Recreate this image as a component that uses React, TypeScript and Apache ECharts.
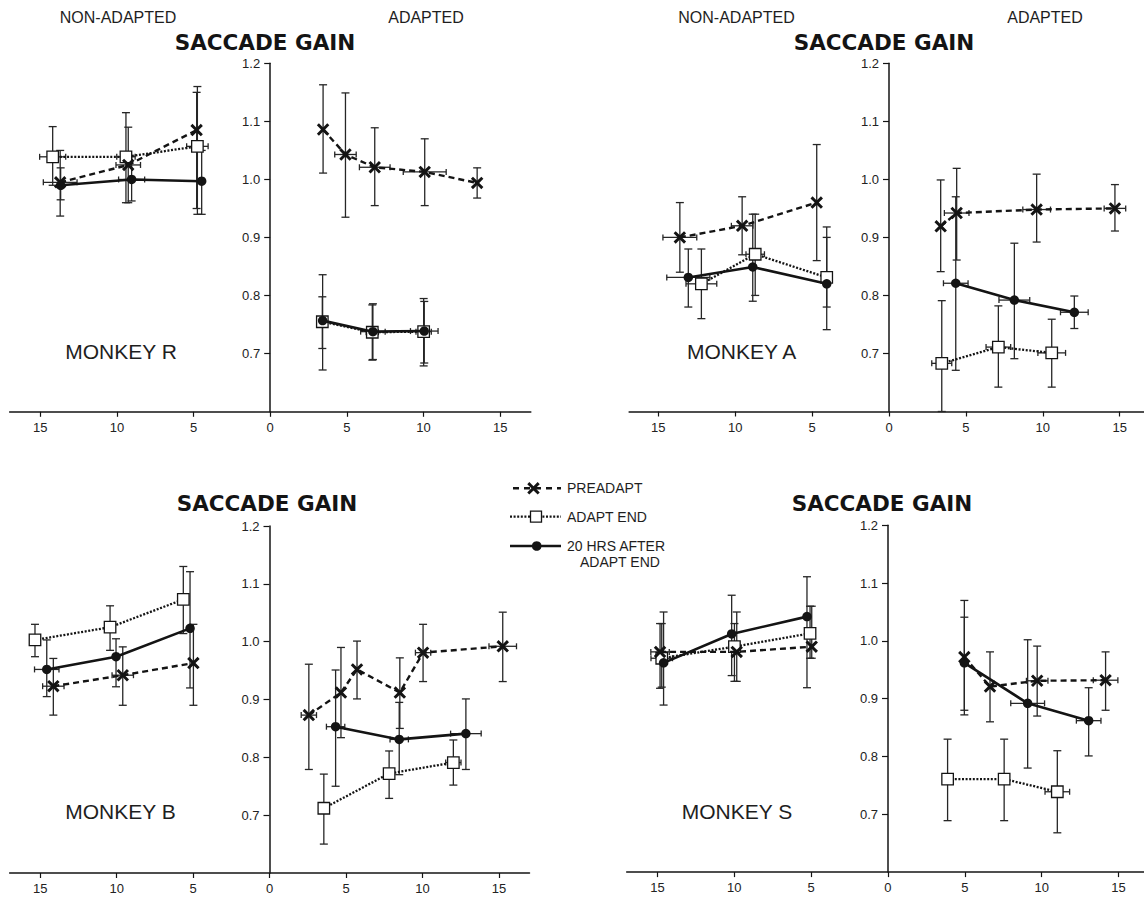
import React, { useEffect, useRef } from "react";
import * as echarts from "echarts";

// Each point: [x (deg, non-adapted side negative), gain, lower, upper, x half-error]
// ---- MONKEY R ----
const rPreNon = [[-13.7, 0.995, 0.937, 1.05, 1.1], [-9.26, 1.025, 0.96, 1.09, 0.8], [-4.8, 1.085, 0.95, 1.15, 0]];
const rEndNon = [[-14.19, 1.039, 0.99, 1.091, 0.85], [-9.41, 1.039, 0.96, 1.115, 0.6], [-4.75, 1.057, 0.94, 1.16, 0.7]];
const rHrsNon = [[-13.67, 0.99, 0.965, 1.02, 0], [-9.04, 1.0, 0.963, 1.04, 0.85], [-4.47, 0.997, 0.94, 1.05, 0]];
const rPreAd = [[3.45, 1.086, 1.011, 1.163, 0], [4.91, 1.043, 0.935, 1.149, 0.7], [6.82, 1.021, 0.955, 1.089, 1.0], [10.08, 1.013, 0.955, 1.07, 1.4], [13.5, 0.994, 0.968, 1.02, 0]];
const rEndAd = [[3.4, 0.755, 0.709, 0.798, 0], [6.66, 0.737, 0.689, 0.784, 0.4], [10.01, 0.738, 0.679, 0.795, 0.5]];
const rHrsAd = [[3.42, 0.757, 0.672, 0.836, 0], [6.7, 0.738, 0.69, 0.786, 0.8], [10.05, 0.739, 0.684, 0.79, 0.9]];
// ---- MONKEY A ----
const aPreNon = [[-13.6, 0.9, 0.84, 0.96, 1.1], [-9.55, 0.92, 0.87, 0.97, 0.7], [-4.7, 0.96, 0.86, 1.06, 0]];
const aEndNon = [[-12.2, 0.82, 0.76, 0.88, 1.0], [-8.7, 0.871, 0.8, 0.94, 0.6], [-4.05, 0.831, 0.78, 0.9, 0]];
const aHrsNon = [[-13.05, 0.831, 0.78, 0.88, 1.4], [-8.86, 0.849, 0.79, 0.94, 0], [-4.05, 0.82, 0.741, 0.918, 0]];
const aPreAd = [[3.36, 0.919, 0.841, 0.999, 0], [4.4, 0.942, 0.861, 1.019, 0.8], [9.6, 0.948, 0.892, 1.009, 0.9], [14.69, 0.95, 0.911, 0.991, 0.7]];
const aEndAd = [[3.43, 0.683, 0.6, 0.791, 0.65], [7.11, 0.711, 0.642, 0.782, 0.8], [10.58, 0.701, 0.642, 0.759, 0.9]];
const aHrsAd = [[4.34, 0.821, 0.671, 0.97, 0.8], [8.15, 0.792, 0.691, 0.89, 1.0], [12.05, 0.771, 0.743, 0.799, 0.9]];
// ---- MONKEY B ----
const bPreNon = [[-14.14, 0.923, 0.873, 0.971, 0.7], [-9.6, 0.942, 0.89, 0.991, 0.7], [-4.98, 0.963, 0.89, 1.03, 0]];
const bEndNon = [[-15.34, 1.003, 0.974, 1.03, 0], [-10.43, 1.025, 0.985, 1.062, 0], [-5.64, 1.073, 1.014, 1.13, 0]];
const bHrsNon = [[-14.57, 0.952, 0.905, 1.003, 0.8], [-10.04, 0.974, 0.922, 1.005, 0], [-5.2, 1.023, 0.92, 1.121, 0]];
const bPreAd = [[2.57, 0.873, 0.779, 0.961, 0.5], [4.67, 0.912, 0.834, 0.99, 0], [5.72, 0.952, 0.901, 1.001, 0], [8.52, 0.912, 0.85, 0.972, 0], [10.04, 0.981, 0.931, 1.03, 0.5], [15.25, 0.992, 0.931, 1.051, 0.9]];
const bEndAd = [[3.55, 0.712, 0.65, 0.771, 0], [7.82, 0.772, 0.729, 0.811, 0], [12.02, 0.791, 0.752, 0.83, 0.5]];
const bHrsAd = [[4.32, 0.853, 0.75, 0.951, 0.6], [8.48, 0.831, 0.77, 0.895, 0.6], [12.84, 0.841, 0.779, 0.901, 1.0]];
// ---- MONKEY S ----
const sPreNon = [[-14.83, 0.981, 0.918, 1.03, 0.6], [-9.84, 0.981, 0.93, 1.05, 0], [-4.96, 0.99, 0.97, 1.06, 0]];
const sEndNon = [[-14.72, 0.97, 0.92, 1.03, 0.7], [-9.99, 0.99, 0.93, 1.03, 0], [-5.07, 1.013, 0.97, 1.06, 0]];
const sHrsNon = [[-14.6, 0.962, 0.889, 1.05, 0], [-10.17, 1.012, 0.94, 1.079, 0], [-5.27, 1.042, 0.919, 1.111, 0]];
const sPreAd = [[4.97, 0.972, 0.88, 1.041, 0], [6.64, 0.921, 0.86, 0.981, 0], [9.71, 0.931, 0.87, 0.991, 0.7], [14.16, 0.932, 0.88, 0.981, 0.8]];
const sEndAd = [[3.88, 0.761, 0.689, 0.83, 0], [7.56, 0.761, 0.689, 0.83, 0], [11.02, 0.739, 0.668, 0.81, 0.8]];
const sHrsAd = [[4.97, 0.962, 0.872, 1.07, 0], [9.09, 0.892, 0.78, 1.002, 1.1], [13.06, 0.862, 0.801, 0.919, 0.8]];

const monkeyNames = ["MONKEY R", "MONKEY A", "MONKEY B", "MONKEY S"];
const seriesNames = ["PREADAPT", "ADAPT END", "20 HRS AFTER ADAPT END"];
const xTickValues = [-15, -10, -5, 0, 5, 10, 15];
const yTickValues = [0.7, 0.8, 0.9, 1.0, 1.1, 1.2];

const panelData = [
  [[rPreNon, rPreAd], [rEndNon, rEndAd], [rHrsNon, rHrsAd]],
  [[aPreNon, aPreAd], [aEndNon, aEndAd], [aHrsNon, aHrsAd]],
  [[bPreNon, bPreAd], [bEndNon, bEndAd], [bHrsNon, bHrsAd]],
  [[sPreNon, sPreAd], [sEndNon, sEndAd], [sHrsNon, sHrsAd]],
];

// layout (pixels) of each panel; zeroX = pixel of the x = 0 line (where the gain axis stands)
const layouts = [
  { left: 9.6, top: 63.3, width: 521.2, height: 348.5, min: -17, max: 17, zeroX: 270.2, title: [265, 42], monkey: [121, 351], heads: [118, 426] },
  { left: 629.1, top: 63.3, width: 514.9, height: 348.2, min: -16.9, max: 16.58, zeroX: 889, title: [884, 42], monkey: [741.6, 351], heads: [736.5, 1045] },
  { left: 9.6, top: 526, width: 519.9, height: 347, min: -17, max: 17, zeroX: 269.5, title: [267, 503], monkey: [120.5, 811.7], heads: null },
  { left: 626.7, top: 525.3, width: 517.3, height: 346.8, min: -17, max: 16.66, zeroX: 888, title: [882, 503], monkey: [737, 811], heads: null },
];

const INK = "#141414";
const X_PATH = "path://M0,2L2,0L6,4L10,0L12,2L8,6L12,10L10,12L6,8L2,12L0,10L4,6Z";
const condStyles = [
  { symbol: X_PATH, symbolSize: 12.5, lineStyle: { type: [6, 4], width: 2.4, color: INK }, itemStyle: { color: INK }, z: 5 },
  { symbol: "rect", symbolSize: 11.5, lineStyle: { type: [2, 1.6], width: 2.3, color: INK }, itemStyle: { color: "#fff", borderColor: INK, borderWidth: 1.3 }, z: 3 },
  { symbol: "circle", symbolSize: 9.5, lineStyle: { type: "solid", width: 2.6, color: INK }, itemStyle: { color: INK }, z: 4 },
];

const FONT = "Liberation Sans";

function xPoly(cx: number, cy: number, s: number) {
  const p = [[0, 2], [2, 0], [6, 4], [10, 0], [12, 2], [8, 6], [12, 10], [10, 12], [6, 8], [2, 12], [0, 10], [4, 6]];
  return p.map(([a, b]) => [cx + (a - 6) * s / 12, cy + (b - 6) * s / 12]);
}

function buildOption() {
  const grid: any[] = [];
  const xAxis: any[] = [];
  const yAxis: any[] = [];
  const series: any[] = [];
  const graphic: any[] = [];

  layouts.forEach((L, i) => {
    grid.push({ left: L.left, top: L.top, width: L.width, height: L.height, containLabel: false, outerBoundsMode: "none" });
    xAxis.push({
      gridIndex: i, type: "value", min: L.min, max: L.max,
      axisLine: { onZero: false, lineStyle: { color: INK, width: 1.5 } },
      axisTick: { show: true, length: 5, customValues: xTickValues, lineStyle: { color: INK, width: 1.2 } },
      axisLabel: { customValues: xTickValues, formatter: (v: number) => String(Math.abs(v)), margin: 9, fontSize: 13, color: "#222", fontFamily: FONT },
      splitLine: { show: false },
    });
    yAxis.push({
      gridIndex: i, type: "value", min: 0.6, max: 1.2, position: "left",
      offset: -(L.zeroX - L.left),
      axisLine: { show: true, onZero: false, lineStyle: { color: INK, width: 1.5 } },
      axisTick: { show: true, length: 6, customValues: yTickValues, lineStyle: { color: INK, width: 1.2 } },
      axisLabel: { customValues: yTickValues, formatter: (v: number) => v.toFixed(1), margin: 10, fontSize: 13, color: "#222", fontFamily: FONT },
      splitLine: { show: false },
    });

    const allPts: number[][] = [];
    panelData[i].forEach((sides, c) => {
      sides.forEach((pts) => {
        pts.forEach((p) => allPts.push(p));
        series.push({
          type: "line", name: seriesNames[c], xAxisIndex: i, yAxisIndex: i,
          data: pts.map((p) => [p[0], p[1]]),
          symbol: condStyles[c].symbol, symbolSize: condStyles[c].symbolSize,
          lineStyle: condStyles[c].lineStyle, itemStyle: condStyles[c].itemStyle,
          z: condStyles[c].z, silent: true, showSymbol: true,
        });
      });
    });
    series.push({
      type: "custom", xAxisIndex: i, yAxisIndex: i, z: 1, silent: true,
      data: allPts,
      encode: { x: 0, y: 1 },
      renderItem: (params: any, api: any) => {
        const x = api.value(0), y = api.value(1), lo = api.value(2), hi = api.value(3), xe = api.value(4);
        const t = api.coord([x, hi]);
        const b = api.coord([x, lo]);
        const st = { stroke: "#262626", lineWidth: 1.3 };
        const ch: any[] = [
          { type: "line", shape: { x1: t[0], y1: t[1], x2: b[0], y2: b[1] }, style: st },
          { type: "line", shape: { x1: t[0] - 4, y1: t[1], x2: t[0] + 4, y2: t[1] }, style: st },
          { type: "line", shape: { x1: b[0] - 4, y1: b[1], x2: b[0] + 4, y2: b[1] }, style: st },
        ];
        if (xe > 0) {
          const l = api.coord([x - xe, y]);
          const r = api.coord([x + xe, y]);
          ch.push({ type: "line", shape: { x1: l[0], y1: l[1], x2: r[0], y2: r[1] }, style: st });
          ch.push({ type: "line", shape: { x1: l[0], y1: l[1] - 3, x2: l[0], y2: l[1] + 3 }, style: st });
          ch.push({ type: "line", shape: { x1: r[0], y1: r[1] - 3, x2: r[0], y2: r[1] + 3 }, style: st });
        }
        return { type: "group", children: ch };
      },
    });

    graphic.push({
      type: "text", x: L.title[0], y: L.title[1],
      style: { text: "SACCADE GAIN", align: "center", verticalAlign: "middle", fontFamily: "DejaVu Sans", fontWeight: "bold", fontSize: 21.5, fill: INK },
    });
    graphic.push({
      type: "text", x: L.monkey[0], y: L.monkey[1],
      style: { text: monkeyNames[i], align: "center", verticalAlign: "middle", fontFamily: FONT, fontSize: 21, fill: "#1e1e1e" },
    });
    if (L.heads) {
      graphic.push({ type: "text", x: L.heads[0], y: 17, style: { text: "NON-ADAPTED", align: "center", verticalAlign: "middle", fontFamily: FONT, fontSize: 16, fill: "#1e1e1e" } });
      graphic.push({ type: "text", x: L.heads[1], y: 17, style: { text: "ADAPTED", align: "center", verticalAlign: "middle", fontFamily: FONT, fontSize: 16, fill: "#1e1e1e" } });
    }
  });

  // legend
  const lg = { fontFamily: FONT, fontSize: 14, fill: "#1e1e1e", verticalAlign: "middle", align: "left" };
  graphic.push(
    { type: "line", shape: { x1: 513, y1: 488.3, x2: 561, y2: 488.3 }, style: { stroke: INK, lineWidth: 2.4, lineDash: [6, 5] } },
    { type: "polygon", shape: { points: xPoly(533.5, 488.3, 12.5) }, style: { fill: INK } },
    { type: "text", x: 567, y: 488.3, style: { ...lg, text: "PREADAPT" } },
    { type: "line", shape: { x1: 510, y1: 516.7, x2: 561, y2: 516.7 }, style: { stroke: INK, lineWidth: 2.3, lineDash: [2, 1.6] } },
    { type: "rect", shape: { x: 530.5, y: 511.2, width: 11, height: 11 }, style: { fill: "#fff", stroke: INK, lineWidth: 1.3 } },
    { type: "text", x: 567, y: 516.7, style: { ...lg, text: "ADAPT END" } },
    { type: "line", shape: { x1: 510, y1: 546, x2: 561, y2: 546 }, style: { stroke: INK, lineWidth: 2.6 } },
    { type: "circle", shape: { cx: 536.7, cy: 546, r: 4.8 }, style: { fill: INK } },
    { type: "text", x: 567, y: 546, style: { ...lg, text: "20 HRS AFTER" } },
    { type: "text", x: 580, y: 561.7, style: { ...lg, text: "ADAPT END" } },
  );

  return { animation: false, backgroundColor: "#fff", grid, xAxis, yAxis, series, graphic };
}

export default function App() {
  const ref = useRef<HTMLDivElement>(null);
  useEffect(() => {
    if (!ref.current) return;
    const chart = echarts.init(ref.current, undefined, { renderer: "svg" });
    chart.setOption(buildOption() as any);
    return () => chart.dispose();
  }, []);
  return <div ref={ref} style={{ position: "absolute", left: 0, top: 0, width: 1144, height: 899, background: "#fff" }} />;
}
